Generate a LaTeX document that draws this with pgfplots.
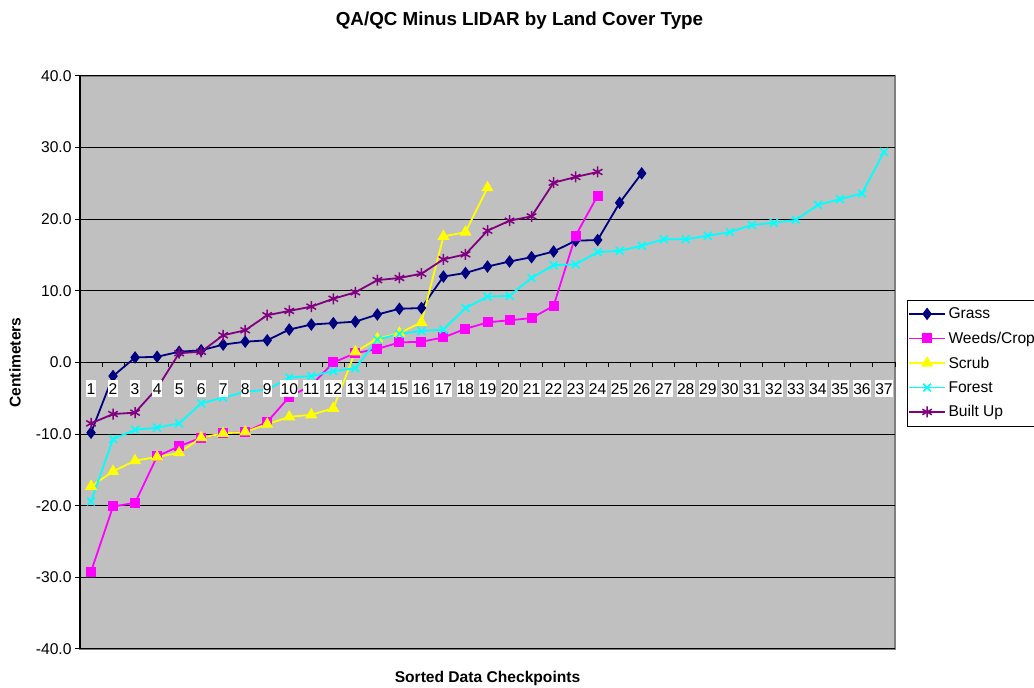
\documentclass[border=0pt]{standalone}
\usepackage{fontspec}
\setmainfont{Liberation Sans}
\usepackage{pgfplots}
\pgfplotsset{compat=1.18}
\definecolor{plotgray}{HTML}{C0C0C0}
\definecolor{cgrass}{HTML}{000080}
\definecolor{cweeds}{HTML}{FF00FF}
\definecolor{cscrub}{HTML}{FFFF00}
\definecolor{cforest}{HTML}{00FFFF}
\definecolor{cbuilt}{HTML}{800080}
\pgfplotsset{
  layers/mylayers/.define layer set={
    axis background,axis grid,axis ticks,axis lines,main,axis tick labels,axis descriptions,axis foreground
  }{/pgfplots/layers/standard},
}
\newcommand{\nf}{\fontsize{15.6bp}{18bp}\selectfont}
\begin{document}
\begin{tikzpicture}
\begin{axis}[
  set layers=mylayers,
  at={(80bp,39bp)}, anchor=south west,
  scale only axis, width=815bp, height=573bp,
  xmin=0.5, xmax=37.5, ymin=-40, ymax=40,
  axis x line=middle, axis y line=left,
  x axis line style={-, black, line width=1.2bp},
  y axis line style={-, black, line width=1.2bp},
  hide obscured x ticks=false, hide obscured y ticks=false,
  axis background/.style={fill=plotgray, draw=gray, line width=1.5bp},
  xtick={1,...,37},
  minor xtick={0.5,1.5,...,37.5},
  major x tick style={draw=none},
  minor x tick style={black, line width=1bp},
  minor tick length=5bp,
  ytick={-40,-30,...,40},
  major tick length=5bp,
  tick align=outside,
  ytick style={black, line width=1bp},
  ymajorgrids, grid style={black, line width=1bp},
  yticklabel style={font=\nf, /pgf/number format/.cd, fixed, fixed zerofill, precision=1, assume math mode=true},
  xticklabel style={font=\nf, fill=white, inner xsep=0.3bp, inner ysep=3bp, text height=11.2bp, text depth=0bp, yshift=-12.5bp, /pgf/number format/assume math mode=true},
  title={QA/QC Minus LIDAR by Land Cover Type},
  title style={font=\fontsize{18.8bp}{22bp}\selectfont\bfseries, at={(axis description cs:0.5,1)}, anchor=center, yshift=49bp, xshift=32bp},
  xlabel={Sorted Data Checkpoints},
  xlabel style={font=\nf\bfseries, at={(axis description cs:0.5,0)}, anchor=center, yshift=-29bp},
  ylabel={Centimeters},
  ylabel style={font=\nf\bfseries, at={(axis description cs:-0.0798,0.5)}, anchor=center},
  legend style={at={(axis description cs:1,0.609)}, anchor=north west, xshift=12bp, draw=black, fill=white, font=\nf, inner xsep=1bp, inner ysep=5bp, row sep=6.9bp, nodes={inner sep=2.5bp}},
  legend cell align=left,
  legend image code/.code={\draw[mark repeat=2,mark phase=2] plot coordinates {(0bp,0bp) (18bp,0bp) (36bp,0bp)};},
]
\addplot[cgrass, line width=1.8bp, mark=diamond*, mark size=5.5bp, mark options={solid, fill=cgrass, line width=1bp}] coordinates {
(1,-9.8) (2,-1.9) (3,0.7) (4,0.8) (5,1.5) (6,1.7) (7,2.5) (8,2.9) (9,3.1) (10,4.6)
(11,5.3) (12,5.5) (13,5.7) (14,6.7) (15,7.5) (16,7.6) (17,12.0) (18,12.5) (19,13.4) (20,14.1)
(21,14.7) (22,15.5) (23,17.0) (24,17.1) (25,22.3) (26,26.4)};
\addlegendentry{Grass}
\addplot[cweeds, line width=1.8bp, mark=square*, mark size=4.5bp, mark options={solid, fill=cweeds, line width=1bp}] coordinates {
(1,-29.2) (2,-20.1) (3,-19.6) (4,-13.1) (5,-11.7) (6,-10.5) (7,-9.9) (8,-9.7) (9,-8.3) (10,-4.8)
(11,-3.2) (12,0.0) (13,1.3) (14,1.9) (15,2.8) (16,2.9) (17,3.5) (18,4.7) (19,5.6) (20,5.9)
(21,6.2) (22,7.9) (23,17.7) (24,23.3)};
\addlegendentry{Weeds/Crop}
\addplot[cscrub, line width=1.8bp, mark=triangle*, mark size=6bp, mark options={solid, fill=cscrub, line width=1bp}] coordinates {
(1,-17.3) (2,-15.2) (3,-13.7) (4,-13.2) (5,-12.6) (6,-10.5) (7,-9.9) (8,-9.7) (9,-8.6) (10,-7.6)
(11,-7.3) (12,-6.4) (13,1.5) (14,3.3) (15,4.1) (16,5.6) (17,17.6) (18,18.2) (19,24.4)};
\addlegendentry{Scrub}
\addplot[cforest, line width=1.8bp, mark=x, mark size=5.5bp, mark options={solid, line width=1.6bp}] coordinates {
(1,-19.4) (2,-10.7) (3,-9.4) (4,-9.1) (5,-8.5) (6,-5.7) (7,-4.9) (8,-4.1) (9,-3.8) (10,-2.1)
(11,-1.9) (12,-1.2) (13,-0.8) (14,3.2) (15,4.0) (16,4.4) (17,4.6) (18,7.6) (19,9.2) (20,9.3)
(21,11.8) (22,13.6) (23,13.7) (24,15.4) (25,15.6) (26,16.3) (27,17.2) (28,17.2) (29,17.7) (30,18.2)
(31,19.2) (32,19.5) (33,19.9) (34,22.0) (35,22.8) (36,23.6) (37,29.4)};
\addlegendentry{Forest}
\addplot[cbuilt, line width=1.8bp, mark=asterisk, mark size=5.5bp, mark options={solid, line width=1.5bp}] coordinates {
(1,-8.5) (2,-7.2) (3,-7.0) (4,-3.6) (5,1.3) (6,1.5) (7,3.8) (8,4.5) (9,6.6) (10,7.2)
(11,7.8) (12,8.9) (13,9.8) (14,11.5) (15,11.8) (16,12.4) (17,14.4) (18,15.1) (19,18.4) (20,19.8)
(21,20.4) (22,25.1) (23,25.9) (24,26.6)};
\addlegendentry{Built Up}
\end{axis}
\pgfresetboundingbox
\path[use as bounding box] (0,0) rectangle (1034bp,688bp);
\end{tikzpicture}
\end{document}
